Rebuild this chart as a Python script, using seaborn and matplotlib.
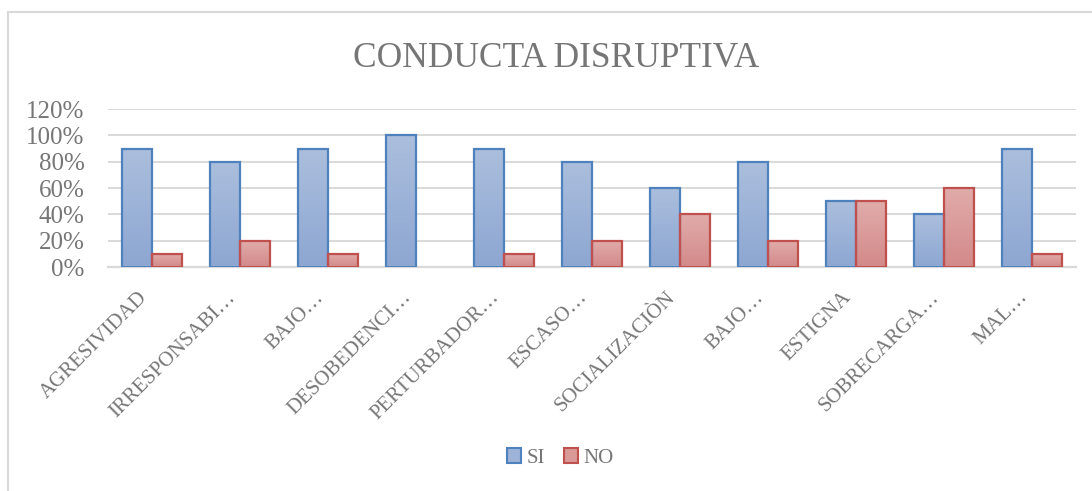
import numpy as np
import pandas as pd
import matplotlib
matplotlib.use("Agg")
from matplotlib import pyplot as plt
from matplotlib.colors import LinearSegmentedColormap
from matplotlib.lines import Line2D
from matplotlib.patches import Patch
from matplotlib.transforms import ScaledTranslation
import seaborn as sns

categories = ["AGRESIVIDAD", "IRRESPONSABI…", "BAJO…", "DESOBEDENCI…", "PERTURBADOR…",
              "ESCASO…", "SOCIALIZACIÒN", "BAJO…", "ESTIGNA", "SOBRECARGA…", "MAL…"]
si_values = [0.9, 0.8, 0.9, 1.0, 0.9, 0.8, 0.6, 0.8, 0.5, 0.4, 0.9]
no_values = [0.1, 0.2, 0.1, 0.0, 0.1, 0.2, 0.4, 0.2, 0.5, 0.6, 0.1]
series = ["SI", "NO"]
y_ticks = [0, 0.2, 0.4, 0.6, 0.8, 1.0, 1.2]

# positions instead of names, the BAJO… label repeats
rows = []
for i, cat in enumerate(categories):
    rows.append({"pos": i, "serie": "SI", "valor": si_values[i]})
    rows.append({"pos": i, "serie": "NO", "valor": no_values[i]})
df = pd.DataFrame(rows)

sns.set_style("white")
plt.rcParams["font.family"] = ["Liberation Serif", "DejaVu Serif"]

edge_cols = {"SI": "#4F81BD", "NO": "#C0504D"}
grad_cols = {"SI": ("#8DA7D2", "#ABBEDD"), "NO": ("#D4898A", "#E0ACAA")}
text_col = "#767676"

fig = plt.figure(figsize=(10.92, 4.91), dpi=100)
ax = fig.add_axes([0.099, 0.4562, 0.886, 0.3218])

sns.barplot(data=df, x="pos", y="valor", hue="serie", hue_order=series,
            order=list(range(len(categories))), width=0.68, gap=0,
            palette=["#9DB3D8", "#D99A98"], legend=False, ax=ax)

ax.set_ylim(0, 1.2)
xlim = ax.get_xlim()
for cont, name in zip(ax.containers, series):
    cmap = LinearSegmentedColormap.from_list(name, grad_cols[name])
    for bar in cont:
        bar.set_edgecolor(edge_cols[name])
        bar.set_linewidth(1.6)
        h = bar.get_height()
        if h <= 0:
            bar.set_visible(False)
            continue
        x0 = bar.get_x()
        w = bar.get_width()
        img = ax.imshow(np.linspace(0, 1, 100).reshape(-1, 1), cmap=cmap, origin="lower",
                        extent=[x0, x0 + w, 0, h], aspect="auto", zorder=2)
        img.set_clip_path(bar)
        bar.set_facecolor("none")
        bar.set_zorder(3)
ax.set_xlim(xlim)
ax.set_ylim(0, 1.2)
ax.set_aspect("auto")

ax.set_yticks(y_ticks)
ax.set_yticklabels([f"{int(round(t * 100))}%" for t in y_ticks], fontsize=18, color=text_col)
ax.set_xticks(range(len(categories)))
ax.set_xticklabels(categories, rotation=45, ha="right", rotation_mode="anchor",
                   fontsize=15, color=text_col)
ax.tick_params(axis="both", length=0)
ax.tick_params(axis="y", pad=17)
ax.tick_params(axis="x", pad=15)
shift = ScaledTranslation(-10 / 72, 0, fig.dpi_scale_trans)
for lab in ax.get_xticklabels():
    lab.set_transform(lab.get_transform() + shift)
ax.set_xlabel("")
ax.set_ylabel("")
ax.grid(axis="y", color="#D9D9D9", linewidth=1.4)
ax.set_axisbelow(True)
for s in ["left", "right", "top"]:
    ax.spines[s].set_visible(False)
ax.spines["bottom"].set_color("#D9D9D9")
ax.spines["bottom"].set_linewidth(1.6)

fig.text(0.509, 0.88, "CONDUCTA DISRUPTIVA", ha="center", va="center",
         fontsize=25.5, color=text_col)

handles = [Patch(facecolor="#9DB3D8", edgecolor=edge_cols["SI"], linewidth=1.5, label="SI"),
           Patch(facecolor="#D99A98", edgecolor=edge_cols["NO"], linewidth=1.5, label="NO")]
leg = fig.legend(handles=handles, loc="center", bbox_to_anchor=(0.513, 0.067), ncol=2,
                 frameon=False, fontsize=15, handlelength=0.7, handleheight=0.7,
                 handletextpad=0.25, columnspacing=0.9)
for t in leg.get_texts():
    t.set_color(text_col)

# outer chart frame (only top and left edges show)
fig.add_artist(Line2D([0.0073, 0.0073], [0, 0.976], color="#D9D9D9", linewidth=1.5,
                      transform=fig.transFigure))
fig.add_artist(Line2D([0.0073, 1], [0.976, 0.976], color="#D9D9D9", linewidth=1.5,
                      transform=fig.transFigure))

fig.savefig("out.png", dpi=100)
